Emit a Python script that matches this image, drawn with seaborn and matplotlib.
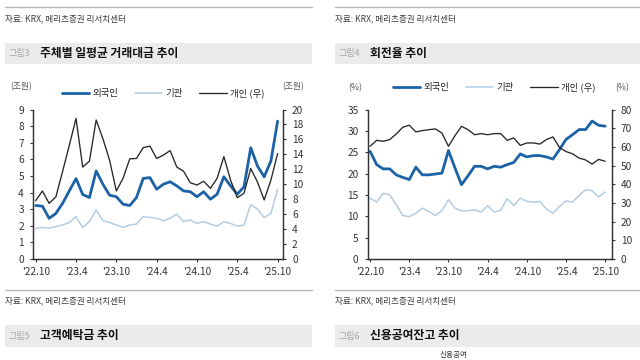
"""
그림3 / 그림4 — 주체별 거래대금, 회전율 추이 (KRX, 메리츠증권 리서치센터)

Run: python plot.py  ->  out.png
"""
import matplotlib

matplotlib.use("Agg")

import matplotlib.pyplot as plt
import seaborn as sns
from matplotlib.lines import Line2D
from matplotlib.patches import Rectangle

W, H = 640, 360

# x axis: monthly, '22.10 ~ '25.10
MONTHS = list(range(37))
TICK_POS = [0, 6, 12, 18, 24, 30, 36]
TICK_LABELS = ["'22.10", "'23.4", "'23.10", "'24.4", "'24.10", "'25.4", "'25.10"]

LEGEND_NAMES = ["외국인", "기관", "개인 (우)"]
SOURCE = "자료: KRX, 메리츠증권 리서치센터"

# 그림3 주체별 일평균 거래대금 (조원)
TV_FOREIGN = [3.22, 3.18, 2.45, 2.74, 3.35, 4.1, 4.84, 3.88, 3.7, 5.3,
              4.5, 3.84, 3.75, 3.3, 3.22, 3.7, 4.85, 4.9, 4.2, 4.5,
              4.65, 4.4, 4.1, 4.05, 3.75, 4.05, 3.6, 3.9, 4.95, 4.4,
              3.9, 4.35, 6.7, 5.6, 4.95, 5.9, 8.3]
TV_INST = [1.84, 1.9, 1.86, 1.95, 2.05, 2.2, 2.55, 1.9, 2.25, 2.95,
           2.3, 2.2, 2.05, 1.9, 2.05, 2.1, 2.55, 2.5, 2.45, 2.3,
           2.45, 2.7, 2.25, 2.35, 2.15, 2.25, 2.1, 1.98, 2.24, 2.14,
           1.98, 2.04, 3.28, 3.0, 2.5, 2.74, 4.2]
TV_INDIV = [7.8, 9.1, 7.45, 8.3, 11.7, 15.2, 18.8, 12.3, 13.1, 18.6,
            16.1, 13.2, 9.1, 10.8, 13.4, 13.45, 14.9, 15.1, 13.45, 13.9,
            14.5, 12.3, 11.75, 10.2, 9.9, 10.4, 9.45, 10.8, 13.7, 10.55,
            8.2, 8.8, 12.1, 10.3, 7.9, 10.55, 14.1]

# 그림4 회전율 (%)
TO_FOREIGN = [25.2, 22.1, 21.1, 21.1, 19.7, 19.1, 18.6, 21.5, 19.7, 19.7,
              19.9, 20.1, 25.4, 21.3, 17.4, 19.5, 21.7, 21.7, 21.1, 21.7,
              21.5, 22.1, 22.6, 24.6, 23.9, 24.2, 24.2, 23.9, 23.4, 25.6,
              28.0, 29.1, 30.3, 30.3, 32.3, 31.3, 31.1]
TO_INST = [14.25, 13.3, 15.4, 15.0, 12.7, 10.2, 9.9, 10.7, 11.9, 11.1,
           10.2, 11.3, 13.9, 11.9, 11.3, 11.3, 11.5, 11.0, 12.5, 11.0,
           11.4, 14.1, 12.5, 14.25, 13.5, 13.3, 13.5, 11.7, 10.7, 12.3,
           13.6, 13.3, 14.9, 16.2, 16.0, 14.5, 15.7]
TO_INDIV = [60.3, 63.5, 63.0, 63.9, 66.9, 70.5, 71.6, 68.0, 68.7, 69.2,
            69.6, 67.4, 60.3, 66.0, 71.0, 69.2, 66.5, 67.1, 66.5, 67.1,
            67.1, 63.5, 64.8, 60.8, 62.1, 62.1, 61.5, 63.9, 65.3, 59.7,
            57.5, 56.3, 54.0, 53.0, 50.8, 53.3, 52.3]

BLUE = "#1c62a6"
LIGHT = "#b3cde3"
DARK = "#262626"
AXIS = "#333333"


def fx(px):
    return px / W


def fy(py):
    return 1 - py / H


def header(fig, x0, x1, y_line, y_src, band, fig_no, title):
    fig.add_artist(Line2D([fx(x0), fx(x1)], [fy(y_line)] * 2, color="#b8b8b8", lw=1.0))
    fig.text(fx(x0), fy(y_src), SOURCE, fontsize=6.2, color="#3c3c3c", va="center")
    b0, b1 = band
    fig.add_artist(Rectangle((fx(x0), fy(b1)), fx(x1) - fx(x0), (b1 - b0) / H,
                             facecolor="#ebebeb", edgecolor="none"))
    mid = fy((b0 + b1) / 2)
    fig.text(fx(x0 + 3.5), mid, fig_no, fontsize=6.5, color="#a6a6a6", va="center")
    fig.text(fx(x0 + 34.5), mid, title, fontsize=8.5, fontweight="bold", color="#111111", va="center")


def chart(fig, left_px, right_px, foreign, inst, indiv, lmax, lstep, rmax, rstep,
          xlim, unit, legend_x, legend_y, unit_y):
    top_px, bot_px = 109.5, 259
    ax = fig.add_axes([fx(left_px), fy(bot_px), (right_px - left_px) / W, (bot_px - top_px) / H])
    tw = ax.twinx()

    sns.lineplot(x=MONTHS, y=foreign, ax=ax, color=BLUE, lw=2.0)
    sns.lineplot(x=MONTHS, y=inst, ax=ax, color=LIGHT, lw=1.1)
    sns.lineplot(x=MONTHS, y=indiv, ax=tw, color=DARK, lw=0.95)

    ax.set_xlim(*xlim)
    ax.set_ylim(0, lmax)
    tw.set_ylim(0, rmax)
    ax.set_yticks(range(0, lmax + 1, lstep))
    tw.set_yticks(range(0, rmax + 1, rstep))
    ax.set_xticks(TICK_POS)
    ax.set_xticklabels(TICK_LABELS)

    for a in (ax, tw):
        a.set_xlabel("")
        a.set_ylabel("")
        a.spines["top"].set_visible(False)
        for s in ("left", "right", "bottom"):
            a.spines[s].set_color(AXIS)
            a.spines[s].set_linewidth(0.9)
        a.tick_params(axis="both", direction="out", length=2.5, width=0.8,
                      color=AXIS, labelsize=7.3, labelcolor="#333333", pad=4)
    ax.tick_params(axis="x", pad=3)
    ax.grid(False)
    tw.grid(False)

    fig.text(fx(left_px - 12), fy(unit_y), unit, fontsize=6.3, color="#555555", ha="center", va="center")
    fig.text(fx(right_px + 10), fy(unit_y), unit, fontsize=6.3, color="#555555", ha="center", va="center")

    handles = [Line2D([], [], color=BLUE, lw=2.0),
               Line2D([], [], color=LIGHT, lw=1.1),
               Line2D([], [], color=DARK, lw=0.95)]
    fig.legend(handles, LEGEND_NAMES, loc="center", bbox_to_anchor=(fx(legend_x), fy(legend_y)),
               ncol=3, frameon=False, fontsize=6.8, handlelength=2.9, handletextpad=0.3,
               columnspacing=1.8, borderaxespad=0, borderpad=0)
    return ax, tw


def main():
    sns.set_theme(style="ticks")
    plt.rcParams["font.family"] = ["Noto Sans CJK KR", "DejaVu Sans"]
    plt.rcParams["axes.unicode_minus"] = False

    fig = plt.figure(figsize=(W / 100, H / 100), dpi=100)
    fig.patch.set_facecolor("white")

    # top headers
    header(fig, 5, 312, 7, 18.5, (43, 64), "그림3", "주체별 일평균 거래대금 추이")
    header(fig, 335, 641, 7, 18.5, (43, 64), "그림4", "회전율 추이")

    chart(fig, 33, 283, TV_FOREIGN, TV_INST, TV_INDIV, 9, 1, 20, 2,
          (-0.4, 36.8), "(조원)", 163, 93.5, 86.5)
    chart(fig, 367.5, 611.7, TO_FOREIGN, TO_INST, TO_INDIV, 35, 5, 80, 10,
          (-0.4, 37.0), "(%)", 494, 87.5, 87.5)

    # bottom headers (next figures)
    header(fig, 5, 312, 289.5, 300.5, (325, 347), "그림5", "고객예탁금 추이")
    header(fig, 335, 641, 289.5, 300.5, (325, 347), "그림6", "신용공여잔고 추이")
    fig.text(fx(440), fy(355), "신용공여", fontsize=5.5, color="#333333", va="center")

    fig.savefig("out.png", dpi=100, facecolor="white")
    plt.close(fig)


if __name__ == "__main__":
    main()
